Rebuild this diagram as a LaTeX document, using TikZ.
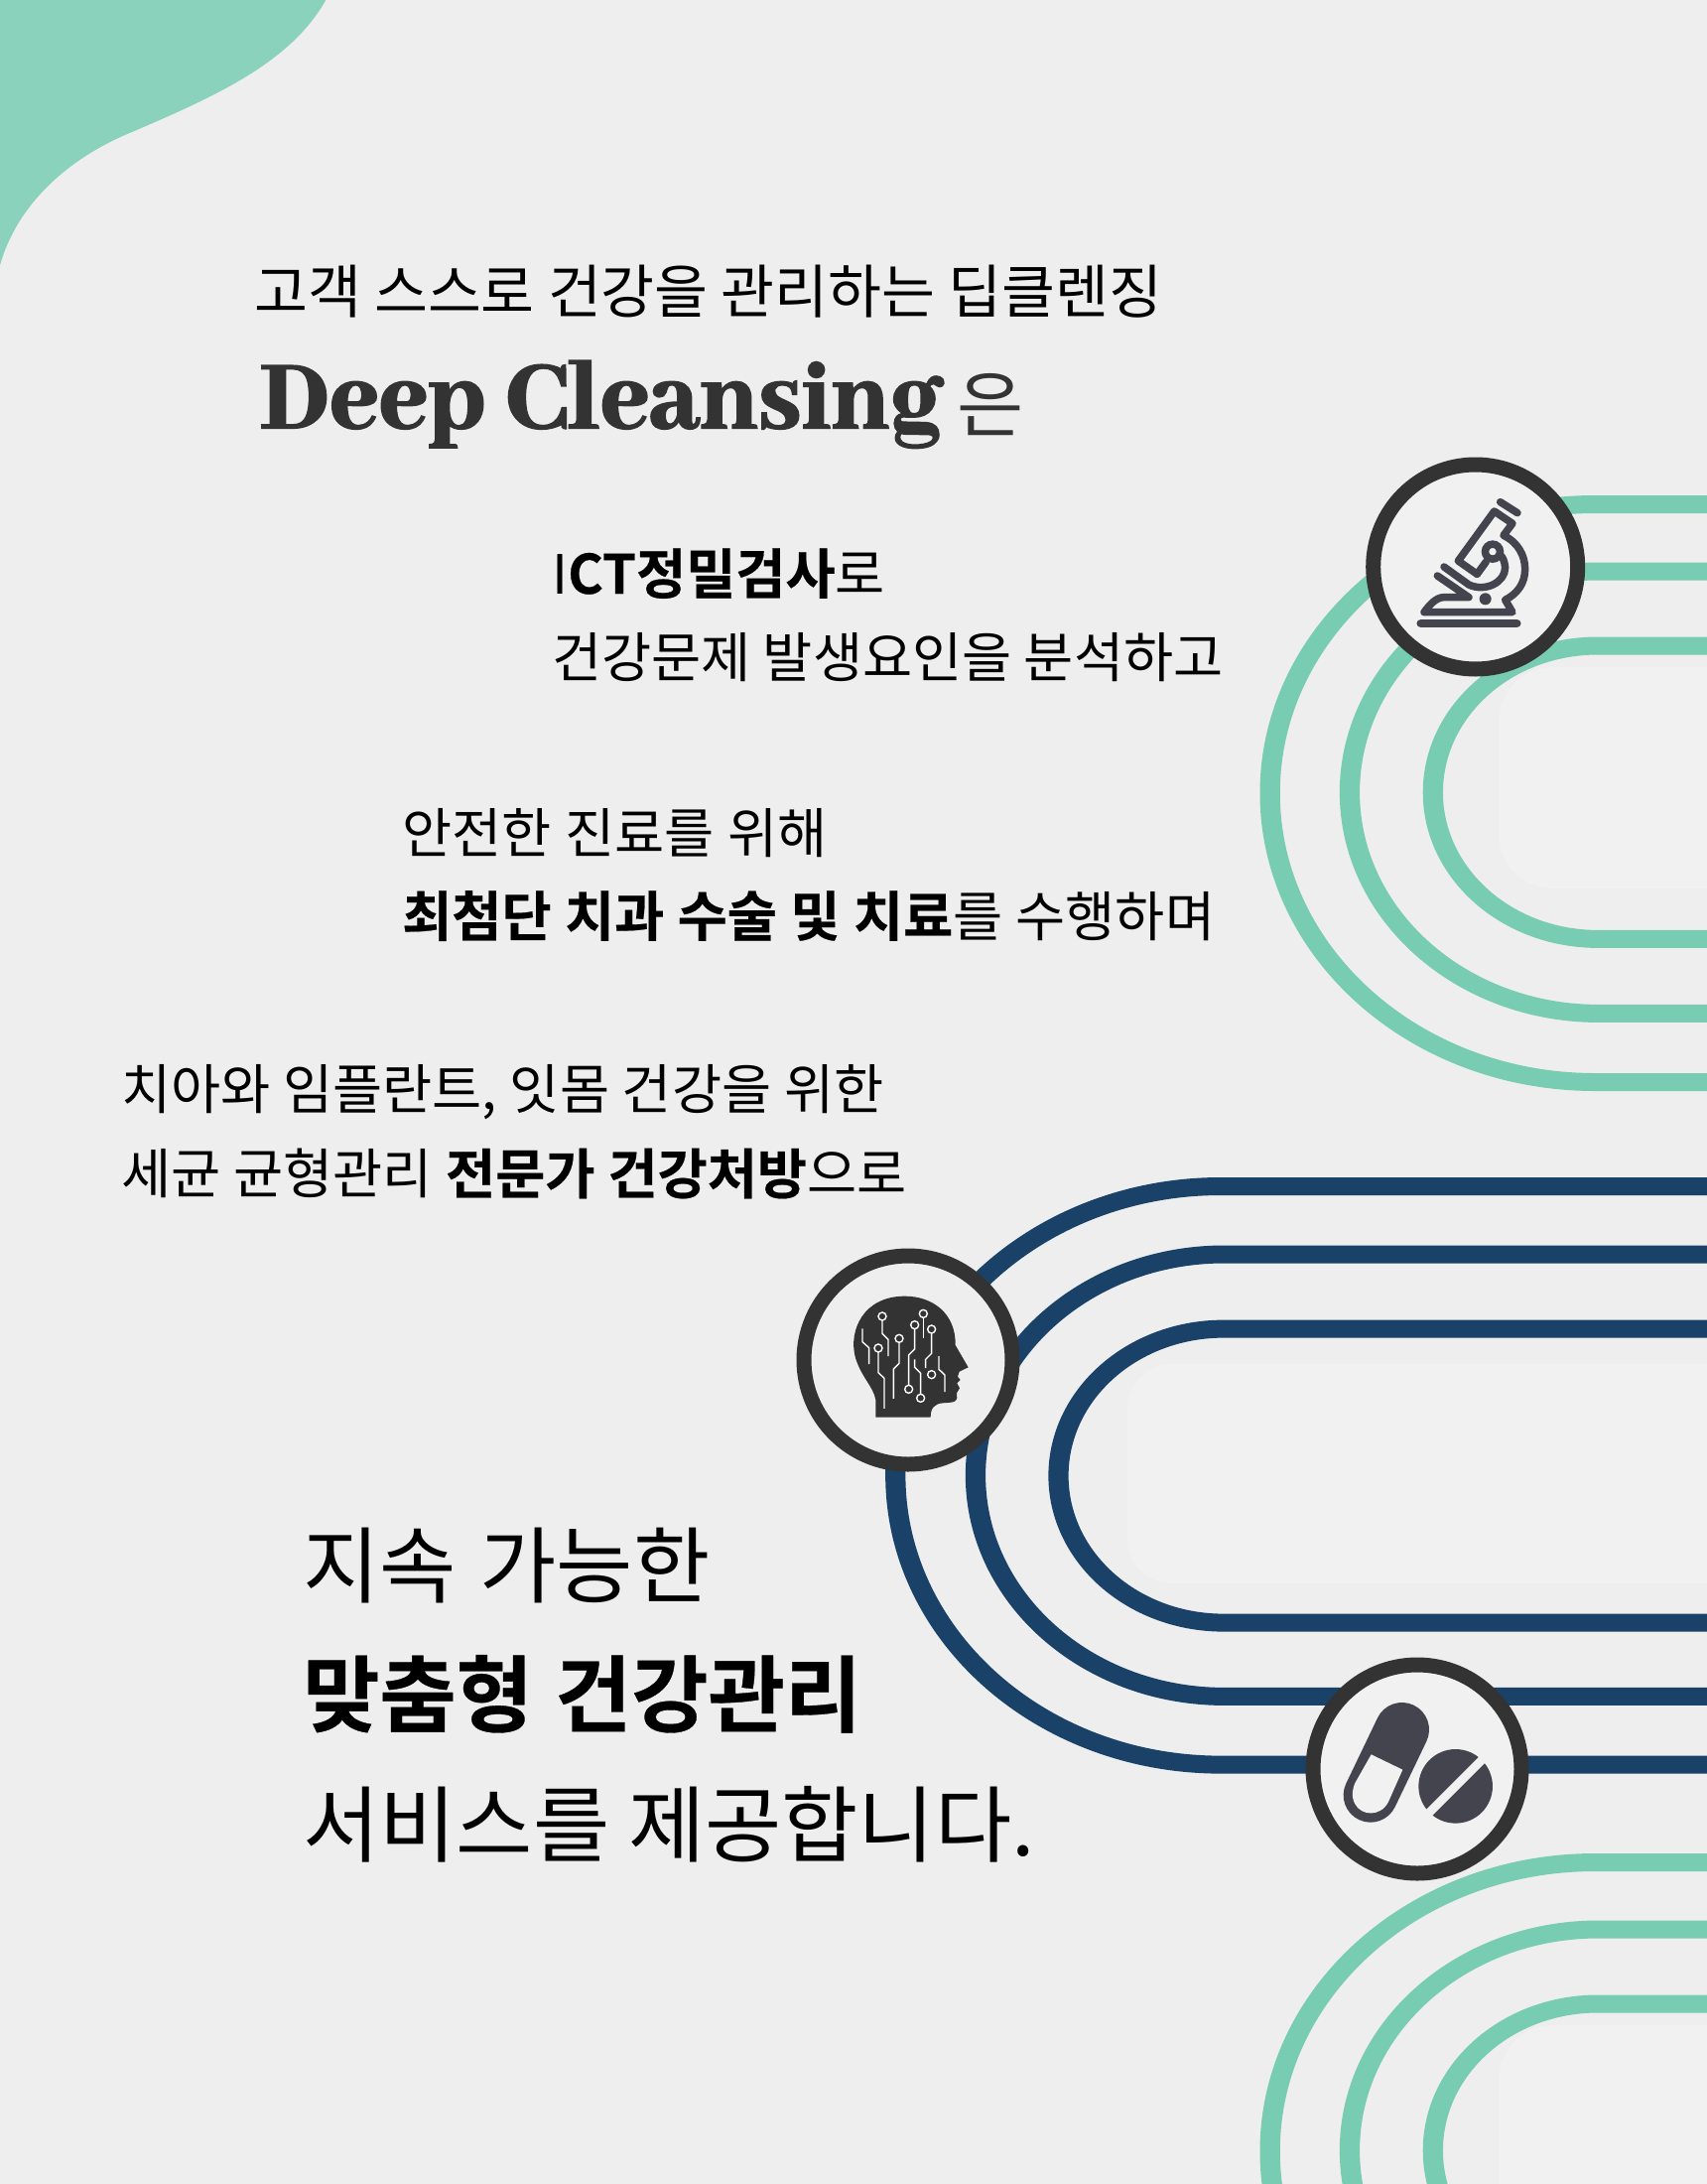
\documentclass[tikz,border=0pt]{standalone}
\usepackage{fontspec}
\setmainfont{Noto Sans CJK KR}[BoldFont={Noto Sans CJK KR Bold},BoldFeatures={FakeBold=0.4}]
\newfontfamily\deepfont{Abhaya Libre ExtraBold}[FakeBold=2]
\definecolor{bgc}{HTML}{EEEEEE}
\definecolor{innerc}{HTML}{F1F1F1}
\definecolor{blobc}{HTML}{8AD2BB}
\definecolor{greenl}{HTML}{77CCB2}
\definecolor{navyl}{HTML}{1A4268}
\definecolor{ringc}{HTML}{333333}
\definecolor{iconc}{HTML}{44444E}
\tikzset{
 txt/.style={inner sep=0pt,anchor=base west,text=black},
 body/.style={txt,font=\fontsize{54.5}{54.5}\selectfont},
 big/.style={txt,font=\fontsize{84}{84}\selectfont},
 lanebase/.style={line width=18pt,transform canvas={xscale=1.125}},
 ring/.style={circle,draw=ringc,line width=15pt,fill=innerc,minimum size=210pt,inner sep=0pt},
 icostroke/.style={draw=iconc,line width=7.5pt,line cap=round,line join=round},
 wire/.style={draw=white,line width=1.4pt},
 pad/.style={circle,draw=white,line width=1.4pt,fill=ringc,minimum size=8pt,inner sep=0pt},
}
% colour, centre x in page px, top y, vertical radius (drawn 1.125 times as wide, stroke included)
\newcommand{\lanecurve}[4]{%
 \pgfmathsetmacro{\lk}{0.5523*#4}%
 \pgfmathsetmacro{\lcx}{(#2)/1.125}%
 \draw[lanebase,#1] (1600,#3) -- (\lcx,#3) .. controls (\lcx-\lk,#3) and (\lcx-#4,#3+#4-\lk) .. (\lcx-#4,#3+#4)
   .. controls (\lcx-#4,#3+#4+\lk) and (\lcx-\lk,#3+2*#4) .. (\lcx,#3+2*#4) -- (1600,#3+2*#4);}
\newcommand{\lanesetgreen}[1]{%
 \lanecurve{greenl}{1607}{#1}{291}
 \lanecurve{greenl}{1610.5}{#1+67.5}{222.7}
 \lanecurve{greenl}{1610}{#1+142.5}{147.7}}
\begin{document}
\begin{tikzpicture}[x=1pt,y=-1pt]
\useasboundingbox (0,0) rectangle (1720,2200);
\clip (0,0) rectangle (1720,2200);
\fill[bgc] (0,0) rectangle (1720,2200);
% blob
\fill[blobc] (0,0) -- (328.3,0) .. controls (293,63) and (217,97) .. (133,133) .. controls (67,160) and (17,207) .. (0,267) -- cycle;
% inner panels
\fill[innerc,rounded corners=55pt] (1510,672) rectangle (1780,895);
\fill[innerc,rounded corners=45pt] (1136,1374) rectangle (1780,1595);
\fill[innerc,rounded corners=55pt] (1510,2040) rectangle (1780,2263);
% lanes
\lanesetgreen{508}
\lanesetgreen{1876}
\lanecurve{navyl}{1230}{1195}{291.3}
\lanecurve{navyl}{1233.5}{1263.5}{222.7}
\lanecurve{navyl}{1233}{1338.6}{148}
% rings
\node[ring,minimum size=206pt] (scope) at (1486.7,571) {};
\node[ring,fill=bgc] (brain) at (915,1370) {};
\node[ring] (pills) at (1428,1782) {};
% microscope
\begin{scope}[shift={(1340,440)},x=0.3333pt,y=-0.3333pt]
 \draw[icostroke,line width=8.5pt] (275,564) -- (565,564);
 \draw[icostroke] (515,197) -- (567,230);
 \draw[icostroke] (445,415) -- (388,375) -- (497,225) -- (552,262) -- (525,298)
   .. controls (570,320) and (590,360) .. (590,400) .. controls (590,445) and (565,475) .. (530,493)
   -- (552,530) -- (285,530) .. controls (300,510) and (320,485) .. (345,485) -- (420,485) -- (325,420);
 \draw[icostroke] (445,415) -- (472,378);
 \draw[icostroke] (345,393) -- (420,447) .. controls (470,470) and (530,440) .. (530,395) .. controls (528,375) and (522,365) .. (518,360);
 \fill[iconc] (470,490) circle[radius=6pt];
 \draw[draw=iconc,line width=7.5pt] (492,347) circle[radius=7.5pt];
\end{scope}
% head
\begin{scope}[shift={(780,1240)},x=0.3333pt,y=-0.3333pt]
 \fill[ringc] (307,563) -- (307,510) .. controls (300,470) and (262,440) .. (245,380)
   .. controls (225,300) and (270,197) .. (395,197) .. controls (480,197) and (550,250) .. (548,345)
   -- (587,412) -- (560,425) -- (555,440) -- (563,450) -- (553,460) -- (561,475) -- (552,490) -- (553,505)
   .. controls (550,518) and (540,518) .. (510,520) .. controls (485,522) and (473,535) .. (473,563) -- cycle;
 \draw[wire] (267,295) -- (267,335) -- (287,353) -- (287,402);
 \draw[wire] (327,270) -- (327,310) -- (345,328) -- (345,378);
 \draw[wire] (315,366) -- (315,428) -- (333,445) -- (333,537);
 \draw[wire] (378,337) -- (378,400) -- (361,417) -- (361,507);
 \draw[wire] (425,296) -- (425,357) -- (407,375) -- (407,465);
 \draw[wire] (451,262) -- (451,324);
 \draw[wire] (476,309) -- (476,370) -- (458,388) -- (458,414);
 \draw[wire] (425,388) -- (425,412) -- (443,430) -- (443,493);
 \draw[wire] (498,378) -- (498,418) -- (516,435) -- (516,486);
 \foreach \nm/\cx/\cy in {a/327/258,b/315/354,c/378/325,d/425/284,e/407/478,f/451/250,g/476/297,h/443/505,i/476/434}
  \node[pad] (pad\nm) at (\cx,\cy) {};
\end{scope}
% pills
\begin{scope}[shift={(1300,1650)},x=0.3333pt,y=-0.3333pt]
 \draw[iconc,line width=54.7pt,line cap=round] (338,277) -- (243,475);
 \fill[innerc] (245,352) -- (340,398) -- (297,495) .. controls (275,540) and (215,540) .. (195,500) .. controls (183,475) and (190,455) .. (195,440) -- cycle;
 \fill[iconc] (500,448) circle[radius=37.3pt];
 \draw[innerc,line width=8.5pt] (400,548) -- (600,348);
\end{scope}
% text
\node[txt,font=\fontsize{58.6}{58.6}\selectfont] (t1) at (256,315.5) {고객 스스로 건강을 관리하는 딥클렌징};
\node[txt,text=ringc,font=\fontsize{106.6}{106.6}\selectfont\deepfont] (t2) at (262,431) {Deep Cleansing};
\node[txt,text=ringc,font=\fontsize{73}{73}\selectfont] (t3) at (964,434) {은};
\node[body] (a1) at (556,598) {I\textbf{CT정밀검사}로};
\node[body] (a2) at (556,682) {건강문제 발생요인을 분석하고};
\node[body] (b1) at (405,859) {\spaceskip=13.6pt 안전한 진료를 위해};
\node[body] (b2) at (405,943) {\spaceskip=13.4pt \textbf{최첨단 치과 수술 및 치료}를 수행하며};
\node[body] (c1) at (122,1117.5) {\spaceskip=12.8pt 치아와 임플란트, 잇몸 건강을 위한};
\node[body] (c2) at (122,1202.5) {\spaceskip=13pt 세균 균형관리 \textbf{전문가 건강처방}으로};
\node[big] (d1) at (305,1608) {\spaceskip=24pt 지속 가능한};
\node[big] (d2) at (305,1738) {\spaceskip=22pt \textbf{맞춤형 건강관리}};
\node[big] (d3) at (305,1869) {서비스를 제공합니다.};
\end{tikzpicture}
\end{document}
